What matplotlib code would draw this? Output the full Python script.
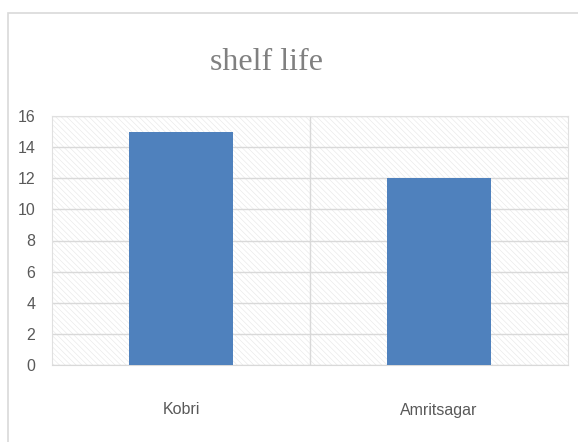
import matplotlib
matplotlib.use("Agg")
import matplotlib.pyplot as plt
from matplotlib.patches import Rectangle

categories = ["Kobri", "Amritsagar"]
shelf_life = [15, 12]
yticks = [0, 2, 4, 6, 8, 10, 12, 14, 16]

plt.rcParams["hatch.linewidth"] = 0.4

fig = plt.figure(figsize=(5.78, 4.42), dpi=100)

# outer chart frame (Excel style)
fig.patches.append(Rectangle((8 / 578, -0.05), 1.0, 1 - 13 / 442 + 0.05,
                             transform=fig.transFigure, fill=False,
                             edgecolor="#d9d9d9", linewidth=1.2))

ax = fig.add_axes([52 / 578, 1 - 365 / 442, 516 / 578, 249 / 442])

# hatched plot area
ax.add_patch(Rectangle((0, 0), 1, 1, transform=ax.transAxes, facecolor="white",
                       edgecolor="#e6e6e6", hatch="\\\\\\\\\\\\", linewidth=0, zorder=0))

x = range(len(categories))
ax.bar(x, shelf_life, width=0.4, color="#4f81bd", zorder=3)

ax.set_xlim(-0.5, 1.5)
ax.set_ylim(0, 16)
ax.set_yticks(yticks)
ax.set_xticks(list(x))
ax.set_xticklabels(categories)
ax.yaxis.grid(True, color="#d9d9d9", linewidth=1, zorder=1)
ax.axvline(0.5, color="#d9d9d9", linewidth=1, zorder=1)
ax.set_axisbelow(True)

for s in ["top", "right", "left"]:
    ax.spines[s].set_color("#e0e0e0")
ax.spines["bottom"].set_color("#d9d9d9")

ax.tick_params(axis="both", length=0, labelsize=11.5, labelcolor="#595959")
ax.tick_params(axis="x", pad=27)
ax.tick_params(axis="y", pad=12)
for lab in ax.get_xticklabels() + ax.get_yticklabels():
    lab.set_fontfamily(["Liberation Sans Narrow", "Liberation Sans", "DejaVu Sans"])

fig.text(267 / 578, 1 - 63 / 442, "shelf life", ha="center", va="center",
         fontsize=23, color="#808080",
         family=["Liberation Serif", "DejaVu Serif"])

fig.savefig("out.png", dpi=100)
